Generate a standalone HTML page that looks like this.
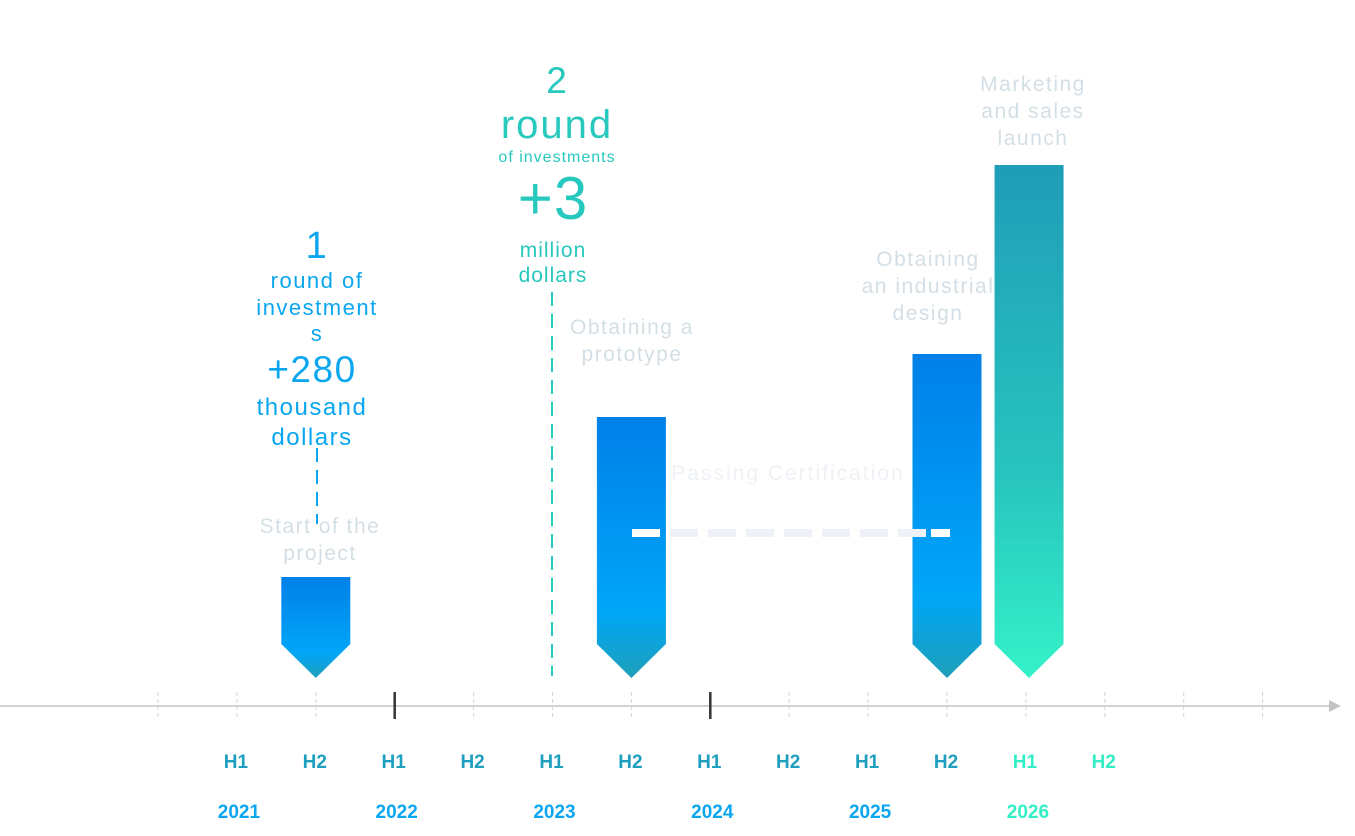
<!DOCTYPE html>
<html><head><meta charset="utf-8">
<style>
body{margin:0;width:1355px;height:836px;background:#fff;overflow:hidden;font-family:"Liberation Sans",sans-serif}
svg{position:absolute;left:0;top:0}
.t{position:absolute;text-align:center;white-space:nowrap;transform:translateX(-50%)}
.g{color:#d3dfe5;font-size:21px;line-height:27px;letter-spacing:1.5px}
.b{color:#0aa6f0;letter-spacing:1.5px}.c{color:#27c8bd;letter-spacing:1px}
</style></head><body>
<svg id="chart" width="1355" height="836">
<defs>
<linearGradient id="gb" x1="0" y1="0" x2="0" y2="1"><stop offset="0" stop-color="#0080e8"/><stop offset="0.75" stop-color="#00a6f8"/><stop offset="1" stop-color="#1e9fb8"/></linearGradient>
<linearGradient id="gt" x1="0" y1="0" x2="0" y2="1"><stop offset="0" stop-color="#1f9db8"/><stop offset="0.6" stop-color="#28c4be"/><stop offset="1" stop-color="#34f2c8"/></linearGradient>
</defs>
</svg>
<div class="t b" style="left:317px;top:225px;font-size:38px;line-height:42px">1</div>
<div class="t b" style="left:317px;top:268px;font-size:22px;line-height:26.5px">round of<br>investment<br>s</div>
<div class="t b" style="left:312px;top:350px;font-size:37px;line-height:40px">+280</div>
<div class="t b" style="left:312px;top:393px;font-size:24px;line-height:30px">thousand<br>dollars</div>
<div class="t c" style="left:557px;top:60px;font-size:37px;line-height:42px">2</div>
<div class="t c" style="left:557px;top:103px;font-size:40px;line-height:44px;letter-spacing:2px">round</div>
<div class="t c" style="left:557px;top:149px;font-size:16px;line-height:18px">of investments</div>
<div class="t c" style="left:553px;top:165px;font-size:60px;line-height:68px">+3</div>
<div class="t c" style="left:553px;top:238px;font-size:21px;line-height:25px">million<br>dollars</div>
<div class="t g" style="left:320px;top:513px">Start of the<br>project</div>
<div class="t g" style="left:632px;top:314px">Obtaining a<br>prototype</div>
<div class="t g" style="left:788px;top:460px;color:#eef2f6;letter-spacing:2px">Passing Certification</div>
<div class="t g" style="left:928px;top:246px">Obtaining<br>an industrial<br>design</div>
<div class="t g" style="left:1033px;top:71px">Marketing<br>and sales<br>launch</div>
<script>
const halfLabels=["H1","H2","H1","H2","H1","H2","H1","H2","H1","H2","H1","H2"];
const years=["2021","2022","2023","2024","2025","2026"];
const barSlots=[2,6,10,11.04];
const barHeights=[101,261,324,513];
const barFills=["url(#gb)","url(#gb)","url(#gb)","url(#gt)"];
const svg=document.getElementById('chart');
const NS='http://www.w3.org/2000/svg';
const X=i=>158+i*78.9;
const BASE=678;
const Y=v=>BASE-v;
function mk(t,a){const e=document.createElementNS(NS,t);for(const k in a)e.setAttribute(k,a[k]);svg.appendChild(e);return e;}
let ax=mk('line',{x1:0,y1:706,x2:1332,y2:706,stroke:'#c4c4c4','stroke-width':1.5});


let ar=mk('path',{d:'M1329 700 L1341 706 L1329 712Z',fill:'#c4c4c4'});


for(let i=0;i<15;i++){
  const dark=(i===3||i===7);
  let tk=mk('line',{x1:X(i),y1:692,x2:X(i),y2:719,stroke:dark?'#333':'#d4d4d4','stroke-width':dark?2.5:1,'stroke-dasharray':dark?'none':'4 3'});
  
  
}
halfLabels.forEach((h,i)=>{
  const t=mk('text',{x:X(i+1)-1,y:768,'text-anchor':'middle','font-size':19,'font-weight':'bold',fill:i>=10?'#34efc6':'#1e9fc0'});
  t.textContent=h;
  
  
});
years.forEach((y,i)=>{
  const t=mk('text',{x:X(1+2*i)+2,y:818,'text-anchor':'middle','font-size':19,'font-weight':'bold',fill:i===5?'#34efc6':'#0aa6f0'});
  t.textContent=y;
  
  
});
let d1=mk('line',{x1:317,y1:448,x2:317,y2:524,stroke:'#0aa6f0','stroke-width':2,'stroke-dasharray':'14 8'});


let d2=mk('line',{x1:552,y1:292,x2:552,y2:676,stroke:'#27c8bd','stroke-width':2,'stroke-dasharray':'14 8'});


barSlots.forEach((s,i)=>{
  const cx=X(s),w=69,top=Y(barHeights[i]);
  const p=mk('path',{d:`M${cx-w/2} ${top} H${cx+w/2} V${BASE-34} L${cx} ${BASE} L${cx-w/2} ${BASE-34}Z`,fill:barFills[i]});
  
  
});
let cert=mk('line',{x1:632,y1:533,x2:950,y2:533,stroke:'#eef1f8','stroke-width':8,'stroke-dasharray':'28 10'});


let c1=mk('line',{x1:632,y1:533,x2:660,y2:533,stroke:'#ffffff','stroke-width':8});


let c2=mk('line',{x1:931,y1:533,x2:950,y2:533,stroke:'#ffffff','stroke-width':8});


</script>
</body></html>
